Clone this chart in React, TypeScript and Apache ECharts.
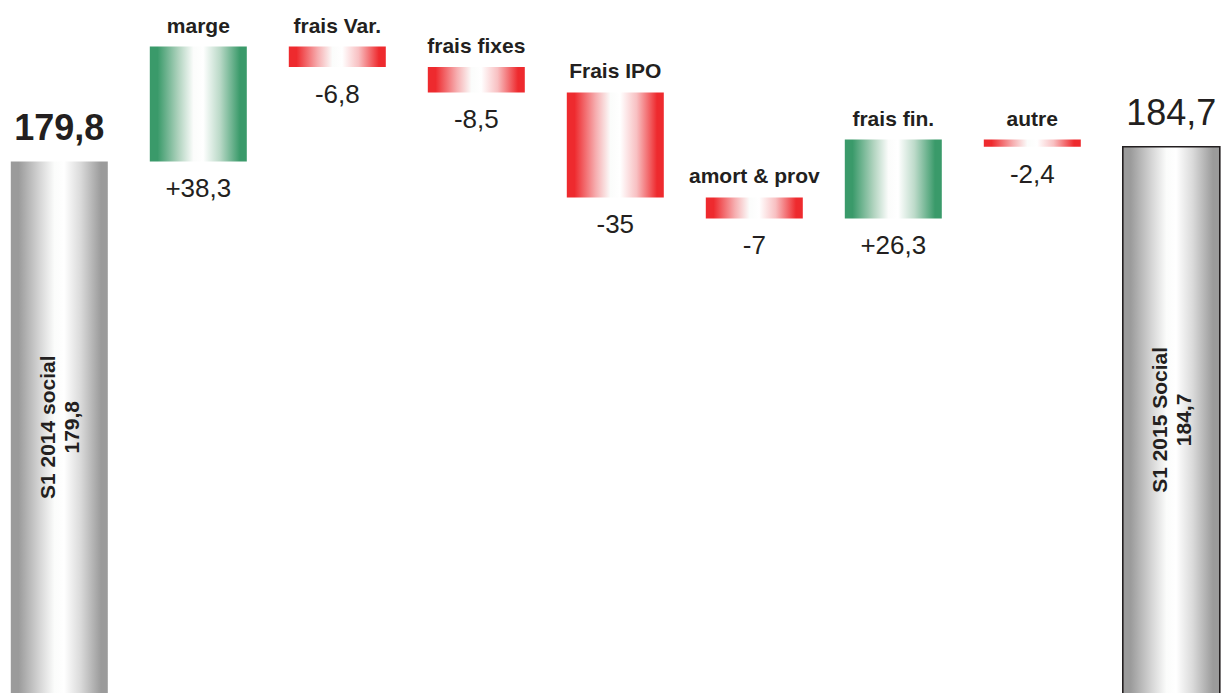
import React, { useEffect, useRef } from "react";
import * as echarts from "echarts";

const categories = [
  "S1 2014 social",
  "marge",
  "frais Var.",
  "frais fixes",
  "Frais IPO",
  "amort & prov",
  "frais fin.",
  "autre",
  "S1 2015 Social",
];
const startValue = 179.8;
const deltas = [38.3, -6.8, -8.5, -35, -7, 26.3, -2.4];
const endValue = 184.7;

const FONT = "'Liberation Sans', Arial, Helvetica, sans-serif";
const TEXT = "#231f20";

const fmt = (v: number) => String(Math.abs(v)).replace(".", ",");
const fmtSigned = (v: number) => (v >= 0 ? "+" : "-") + fmt(v);

function grad(edge: string, mid1: string, mid2: string) {
  return new echarts.graphic.LinearGradient(0, 0, 1, 0, [
    { offset: 0, color: edge },
    { offset: 0.08, color: edge },
    { offset: 0.3, color: mid1 },
    { offset: 0.45, color: "#fbfcfb" },
    { offset: 0.55, color: "#ffffff" },
    { offset: 0.72, color: mid2 },
    { offset: 0.93, color: edge },
    { offset: 1, color: edge },
  ]);
}

export default function App() {
  const ref = useRef<HTMLDivElement>(null);
  useEffect(() => {
    if (!ref.current) return;
    const chart = echarts.init(ref.current, undefined, { renderer: "svg" });

    // Build waterfall items: [index, low, high, kind, delta]
    const items: any[] = [];
    items.push([0, 0, startValue, 0, 0]);
    let run = startValue;
    deltas.forEach((d, k) => {
      const next = run + d;
      items.push([k + 1, Math.min(run, next), Math.max(run, next), d >= 0 ? 1 : 2, d]);
      run = next;
    });
    items.push([categories.length - 1, 0, endValue, 3, 0]);

    const greenG = grad("#3a9a6a", "#b2d4c0", "#bcdac9");
    const redG = grad("#ee2a2e", "#f6aeb0", "#f8c0c2");
    const grayG = grad("#9b9b9b", "#d6d6d6", "#dadada");

    const option: any = {
      animation: false,
      grid: { left: 0, right: 0, top: 0, bottom: 0 },
      xAxis: { type: "value", min: -0.4266, max: 8.4079, show: false, splitLine: { show: false } },
      yAxis: { type: "value", min: 2.633, max: 233.63, show: false, splitLine: { show: false } },
      series: [
        {
          type: "custom",
          clip: false,
          dimensions: ["idx", "low", "high", "kind", "delta"],
          encode: { x: 0, y: [1, 2] },
          data: items,
          renderItem: (params: any, api: any) => {
            const i = api.value(0);
            const low = api.value(1);
            const high = api.value(2);
            const kind = api.value(3);
            const pTop = api.coord([i, high]);
            const pBot = api.coord([i, low]);
            const w = 97;
            const cx = pTop[0];
            const x = cx - w / 2;
            const children: any[] = [];
            const fill = kind === 1 ? greenG : kind === 2 ? redG : grayG;
            children.push({
              type: "rect",
              shape: { x, y: pTop[1], width: w, height: pBot[1] - pTop[1] },
              style: {
                fill,
                stroke: kind === 3 ? TEXT : "none",
                lineWidth: kind === 3 ? 1.6 : 0,
              },
            });
            if (kind === 1 || kind === 2) {
              const d = deltas[i - 1];
              children.push({
                type: "text",
                style: {
                  text: categories[i],
                  x: cx,
                  y: pTop[1] - 11,
                  align: "center",
                  verticalAlign: "bottom",
                  fontFamily: FONT,
                  fontWeight: "bold",
                  fontSize: 21,
                  fill: TEXT,
                },
              });
              children.push({
                type: "text",
                style: {
                  text: fmtSigned(d),
                  x: cx,
                  y: pBot[1] + 27,
                  align: "center",
                  verticalAlign: "middle",
                  fontFamily: FONT,
                  fontSize: 26,
                  fill: TEXT,
                },
              });
            } else {
              const isStart = kind === 0;
              children.push({
                type: "text",
                style: {
                  text: fmt(high),
                  x: cx,
                  y: pTop[1] - 34,
                  align: "center",
                  verticalAlign: "middle",
                  fontFamily: FONT,
                  fontWeight: isStart ? "bold" : "normal",
                  fontSize: 36,
                  fill: TEXT,
                },
              });
              const midY = (pTop[1] + api.getHeight()) / 2;
              children.push({
                type: "text",
                x: cx,
                y: midY,
                rotation: Math.PI / 2,
                style: {
                  text: categories[i] + "\n" + fmt(high),
                  x: 0,
                  y: 0,
                  align: "center",
                  verticalAlign: "middle",
                  fontFamily: FONT,
                  fontWeight: "bold",
                  fontSize: 21,
                  lineHeight: 24,
                  fill: TEXT,
                },
              });
            }
            return { type: "group", children };
          },
        },
      ],
    };
    chart.setOption(option);
    return () => chart.dispose();
  }, []);
  return (
    <div
      ref={ref}
      style={{ position: "absolute", left: 0, top: 0, width: 1228, height: 693, background: "#fff" }}
    />
  );
}
